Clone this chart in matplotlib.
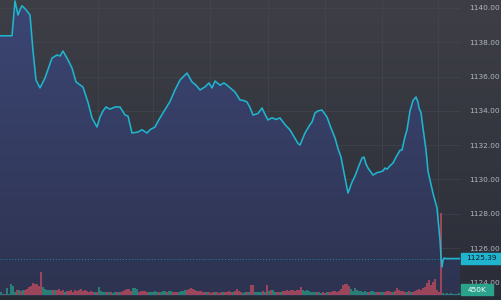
import numpy as np
import matplotlib
matplotlib.use("Agg")
import matplotlib.pyplot as plt
from matplotlib.patches import Rectangle
from matplotlib.colors import LinearSegmentedColormap

# ---------------- data ----------------
t = [0, 12, 15, 18, 20, 22, 26, 30, 33, 36, 40, 45, 52, 57, 60, 63, 68, 72, 76, 83, 88, 92, 97, 100,
     103, 106, 110, 115, 120, 125, 128, 132, 138, 142, 147, 150, 155, 158, 163, 170, 175, 180, 187,
     192, 196, 200, 205, 209, 212, 215, 220, 224, 227, 231, 235, 240, 244, 247, 250, 253, 258, 262,
     265, 268, 272, 276, 280, 285, 290, 295, 298, 300, 305, 310, 312, 315, 318, 322, 327, 331, 335,
     338, 341, 344, 348, 352, 355, 358, 362, 364, 366, 368, 373, 377, 380, 383, 385, 387, 390, 393,
     396, 400, 402, 405, 407, 410, 413, 416, 418, 419, 421, 423, 426, 428, 430, 433, 437, 440, 441,
     442, 443, 444, 446, 460]
price = [1138.38, 1138.38, 1140.41, 1139.59, 1139.90, 1140.13, 1139.90, 1139.59, 1137.50, 1135.80,
         1135.34, 1135.92, 1137.08, 1137.26, 1137.20, 1137.49, 1136.97, 1136.50, 1135.69, 1135.39,
         1134.50, 1133.59, 1133.06, 1133.64, 1134.00, 1134.23, 1134.10, 1134.23, 1134.23, 1133.76,
         1133.70, 1132.71, 1132.77, 1132.90, 1132.71, 1132.90, 1133.06, 1133.40, 1133.88, 1134.55,
         1135.22, 1135.80, 1136.21, 1135.69, 1135.50, 1135.22, 1135.40, 1135.63, 1135.34, 1135.74,
         1135.50, 1135.63, 1135.50, 1135.30, 1135.10, 1134.64, 1134.60, 1134.52, 1134.20, 1133.76,
         1133.85, 1134.17, 1133.80, 1133.47, 1133.60, 1133.50, 1133.59, 1133.20, 1132.89, 1132.40,
         1132.10, 1132.01, 1132.71, 1133.20, 1133.35, 1133.88, 1134.00, 1134.05, 1133.64, 1133.00,
         1132.42, 1131.80, 1131.31, 1130.40, 1129.21, 1129.85, 1130.20, 1130.67, 1131.25, 1131.31,
         1130.90, 1130.67, 1130.26, 1130.40, 1130.44, 1130.50, 1130.67, 1130.60, 1130.80, 1130.96,
         1131.30, 1131.70, 1131.72, 1132.50, 1132.89, 1134.00, 1134.60, 1134.81, 1134.50, 1134.17,
         1133.90, 1133.00, 1131.72, 1130.50, 1129.97, 1129.20, 1128.34, 1126.47, 1125.50, 1124.90,
         1125.30, 1125.42, 1125.39, 1125.39]

# volume (thousands) per bar, and direction ('u' up / 'd' down)
volume = [340, 110, 110, 780, 110, 1230, 1000, 340, 560, 560,
          450, 560, 560, 670, 900, 1000, 1340, 1230, 1230, 1000,
          2580, 900, 670, 560, 560, 560, 560, 560, 560, 670,
          450, 560, 340, 450, 450, 560, 340, 560, 450, 560,
          670, 450, 560, 450, 340, 450, 340, 340, 340, 900,
          450, 340, 340, 340, 340, 340, 225, 340, 340, 340,
          340, 450, 560, 670, 670, 450, 780, 780, 670, 340,
          450, 450, 450, 340, 340, 340, 340, 450, 340, 340,
          340, 450, 450, 340, 450, 450, 340, 340, 340, 340,
          450, 450, 560, 560, 670, 780, 670, 560, 450, 450,
          450, 340, 340, 340, 340, 225, 340, 340, 340, 225,
          340, 340, 340, 340, 450, 340, 340, 450, 670, 450,
          340, 225, 340, 340, 340, 1120, 1120, 340, 340, 340,
          340, 450, 340, 1120, 450, 560, 560, 340, 340, 340,
          340, 450, 450, 560, 450, 560, 560, 450, 560, 560,
          900, 560, 450, 560, 450, 340, 340, 340, 340, 340,
          225, 340, 225, 340, 340, 340, 450, 450, 340, 450,
          670, 1120, 1230, 1230, 1000, 670, 450, 780, 560, 450,
          450, 340, 450, 340, 340, 450, 450, 340, 340, 340,
          340, 340, 340, 450, 450, 340, 340, 450, 780, 560,
          450, 450, 340, 340, 450, 340, 340, 450, 560, 670,
          560, 780, 900, 1340, 1680, 1120, 1460, 1790, 560, 340,
          9180, 225, 110, 225, 110, 225, 110, 110, 110, 225]
direction = ("uuduuuuudu" "dudddddddd" "duuuuududd" "dduddddddd" "dddddddudu"
             "uuududuudu" "dddddduuud" "dddduuuuud" "uuuduudddu" "uuuddddddd"
             "dddudddudd" "dudddduddd" "duududduuu" "udududuudd" "uddddddddd"
             "duuuuuuudu" "uddudddddd" "ddddduuuuu" "uuuuduuudd" "uudddduddd"
             "dddududddd" "dddddddddd" "duuuuuuuuu")

# ---------------- figure ----------------
W, H = 501, 300
fig = plt.figure(figsize=(W / 100, H / 100), dpi=100)

# background gradient
bg = fig.add_axes([0, 0, 1, 1])
bg_cmap = LinearSegmentedColormap.from_list("bg", ["#2a2d38", "#3e3f46"])
bg.imshow(np.linspace(0, 1, 256).reshape(-1, 1), cmap=bg_cmap, aspect="auto",
          origin="lower", extent=[0, 1, 0, 1])
bg.add_patch(Rectangle((0, 0), 1, 4 / H, color="#262a34"))
bg.set_xlim(0, 1); bg.set_ylim(0, 1)
bg.axis("off")

plot_w = 460
ylo = 1140 - 288 / 17.15
yhi = 1140 + 8 / 17.15
ax = fig.add_axes([0, 4 / H, plot_w / W, 296 / H])
ax.patch.set_alpha(0)
ax.set_xlim(0, plot_w)
ax.set_ylim(ylo, yhi)

# volume axis (created early; twinx resets tick side of ax)
vax = ax.twinx()
vax.set_ylim(-112, 33040)
vax.set_xlim(0, plot_w)
vax.axis("off")

yticks = [1124, 1126, 1128, 1130, 1132, 1134, 1136, 1138, 1140]
vgrid = [14, 98, 153, 210, 268, 325, 382, 438]
for yv in yticks:
    ax.axhline(yv, color="#4a4c56", lw=0.6, alpha=0.55, zorder=0)
for xv in vgrid:
    ax.axvline(xv, color="#4a4c56", lw=0.6, alpha=0.55, zorder=0)
ax.axvline(plot_w - 0.5, color="#4a4c56", lw=0.6, alpha=0.6, zorder=0)

ax.set_yticks(yticks)
ax.set_yticklabels([f"{v:.2f}" for v in yticks])
ax.yaxis.tick_right()
ax.tick_params(axis="y", which="both", left=False, right=False, labelleft=False,
               labelright=True, length=0, pad=6.4, labelsize=5.3, labelcolor="#b4b7bf")
ax.set_xticks([])
for s in ax.spines.values():
    s.set_visible(False)

# gradient fill under price line
poly = ax.fill_between(t, price, ylo, color="none", lw=0)
fill_cmap = LinearSegmentedColormap.from_list("fill", ["#2d3350", "#3c4674"])
im = ax.imshow(np.linspace(0, 1, 256).reshape(-1, 1), cmap=fill_cmap, aspect="auto",
               origin="lower", extent=[0, plot_w, ylo, yhi], zorder=1)
im.set_clip_path(poly.get_paths()[0], transform=ax.transData)

# current price dotted line
ax.axhline(1125.39, color="#1fb5cf", lw=0.7, ls=(0, (1, 2)), alpha=0.6, zorder=2)

bar_x = np.arange(len(volume)) * 2 + 1
colors = ["#2a8c7c" if d == "u" else "#b04a5e" for d in direction[:len(volume)]]
vax.bar(bar_x, volume, width=1.7, color=colors, alpha=0.85, lw=0, zorder=2)

# price line on top
vax.plot(t, price, color="#1fb5cf", lw=1.15, transform=ax.transData, zorder=5,
         solid_joinstyle="round")

# right-hand labels
def px2fig(x, y):
    return x / W, 1 - y / H

x0, y0 = px2fig(461, 263.5)
fig.patches.append(Rectangle((x0, y0), 40 / W, 10.5 / H, transform=fig.transFigure,
                             color="#1fb5cf", zorder=10))
fig.text(481 / W, 1 - 258.5 / H, "1125.39", ha="center", va="center", fontsize=5.3,
         color="#15191f", zorder=11)

x0, y0 = px2fig(461, 294.5)
fig.patches.append(Rectangle((x0, y0), 32 / W, 10.5 / H, transform=fig.transFigure,
                             color="#2ba38c", zorder=10))
fig.text(477 / W, 1 - 289.5 / H, "450K", ha="center", va="center", fontsize=5.3,
         color="#ffffff", zorder=11)

fig.savefig("out.png", dpi=100)
